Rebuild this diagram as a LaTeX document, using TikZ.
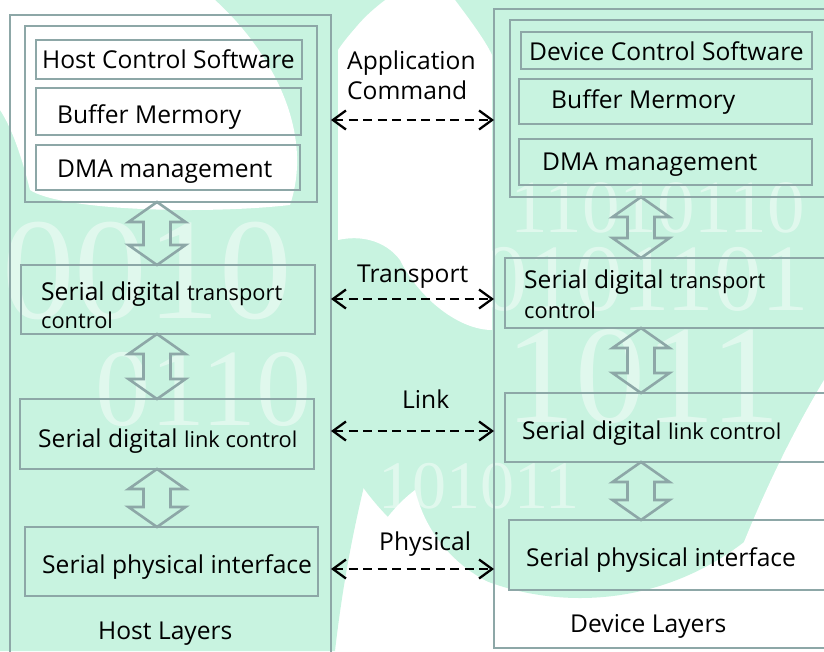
\documentclass[tikz,border=0pt]{standalone}
\usepackage{fontspec}
\setmainfont{Open Sans}
\newfontfamily\digitfont{Liberation Serif}
\usetikzlibrary{arrows.meta,calc}

\definecolor{mint}{HTML}{C8F3E0}
\definecolor{boxline}{HTML}{8DA7A7}

\tikzset{
  lay/.style={draw=boxline, line width=2.6pt, rectangle, anchor=north west,
              inner sep=0pt, outer sep=0pt},
  lbl/.style={anchor=base west, inner sep=0pt, font=\fontsize{24.6}{28}\selectfont},
  proto/.style={line width=2.3pt, dash pattern=on 9pt off 5.5pt,
                {Straight Barb[length=13pt,width=19pt]}-{Straight Barb[length=13pt,width=19pt]}},
  blockarr/.style={draw=boxline, line width=2.6pt, line join=miter},
  bits/.style={text=white, opacity=0.45, anchor=base west, inner sep=0pt}
}
\newcommand\smaller[1]{{\fontsize{21.8}{25}\selectfont #1}}
\newcommand\bitsize[1]{\digitfont\fontsize{#1}{#1}\selectfont}

% hollow double arrow between two stacked boxes, centred on a reference x
\newcommand\updown[3]{%
  \coordinate (arrtop) at (#1.south -| #3);
  \coordinate (arrbot) at (#2.north -| #3);
  \draw[blockarr] (arrtop)
    -- ([shift={(28.5pt,-20pt)}]arrtop) -- ([shift={(13.5pt,-20pt)}]arrtop)
    -- ([shift={(13.5pt,20pt)}]arrbot) -- ([shift={(28.5pt,20pt)}]arrbot)
    -- (arrbot)
    -- ([shift={(-28.5pt,20pt)}]arrbot) -- ([shift={(-13.5pt,20pt)}]arrbot)
    -- ([shift={(-13.5pt,-20pt)}]arrtop) -- ([shift={(-28.5pt,-20pt)}]arrtop)
    -- cycle;
}

\begin{document}
\begin{tikzpicture}[x=1pt,y=-1pt]
\useasboundingbox (0,0) rectangle (824,651);
\clip (0,0) rectangle (824,651);

% ---- decorative background ----
\fill[white] (0,0) rectangle (824,651);
\fill[mint] (0,0) -- (385,0) .. controls (365,15) and (345,35) .. (338,60)
  -- (338,250) .. controls (395,265) and (405,330) .. (390,380)
  .. controls (375,450) and (350,520) .. (335,651) -- (0,651) -- cycle;
\fill[mint] (580,330) circle [radius=268pt];
\fill[mint] (450,0) rectangle (824,330);
\fill[white] (0,0) -- (215,0) .. controls (270,50) and (315,130) .. (290,205)
  .. controls (200,215) and (60,210) .. (30,190)
  .. controls (20,150) and (10,125) .. (0,110) -- cycle;
\fill[white] (338,50) .. controls (355,25) and (375,8) .. (395,0) -- (455,0)
  .. controls (470,20) and (485,40) .. (492,55) -- (492,330)
  .. controls (460,330) and (420,300) .. (400,260)
  .. controls (385,240) and (360,235) .. (338,240) -- cycle;
\fill[white] (338,651) .. controls (345,580) and (375,520) .. (415,490)
  .. controls (430,550) and (480,595) .. (560,602)
  .. controls (630,608) and (690,625) .. (715,651) -- cycle;
\fill[white] (824,380) -- (824,450) .. controls (800,520) and (775,590) .. (765,651)
  -- (705,651) .. controls (730,570) and (770,470) .. (824,380) -- cycle;

\node[bits, font=\bitsize{145}] (bg1) at (2,318) {0010};
\node[bits, font=\bitsize{110}] (bg2) at (95,425) {0110};
\node[bits, font=\bitsize{68}]  (bg4) at (378,508) {101011};
\node[bits, font=\bitsize{75}]  (bg5) at (510,232) {11010110};
\node[bits, font=\bitsize{95}]  (bg6) at (480,310) {0101101};
\node[bits, font=\bitsize{140}] (bg7) at (505,422) {1011};

% ---- host side ----
\node[lay, minimum width=321pt, minimum height=660pt] (host) at (10,15) {};
\node[lay, minimum width=292pt, minimum height=176pt] (hgrp) at (25,26) {};
\node[lay, minimum width=266pt, minimum height=39pt]  (hcs)  at (36,40) {};
\node[lay, minimum width=265pt, minimum height=47pt]  (hbuf) at (36,88) {};
\node[lay, minimum width=264pt, minimum height=45pt]  (hdma) at (36,145) {};
\node[lay, minimum width=294pt, minimum height=69pt]  (htr)  at (21,265) {};
\node[lay, minimum width=294pt, minimum height=70pt]  (hlk)  at (20,399) {};
\node[lay, minimum width=293pt, minimum height=69pt]  (hph)  at (25,527) {};

\node[lbl] (thcs)  at (42,68)  {Host Control Software};
\node[lbl] (thbuf) at (57,123) {Buffer Mermory};
\node[lbl] (thdma) at (57,177) {DMA management};
\node[lbl] (thtr)  at (41,300) {Serial digital \smaller{transport}};
\node[lbl] (thtr2) at (41,328) {\smaller{control}};
\node[lbl] (thlk)  at (38,447) {Serial digital \smaller{link control}};
\node[lbl] (thph)  at (42,573) {Serial physical interface};
\node[lbl] (thost) at (98,639) {Host Layers};

% ---- device side ----
\node[lay, minimum width=350pt, minimum height=639pt] (dev)  at (494,9) {};
\node[lay, minimum width=330pt, minimum height=177pt] (dgrp) at (510,20) {};
\node[lay, minimum width=291pt, minimum height=37pt]  (dcs)  at (521,32) {};
\node[lay, minimum width=293pt, minimum height=45pt]  (dbuf) at (519,79) {};
\node[lay, minimum width=293pt, minimum height=46pt]  (ddma) at (519,139) {};
\node[lay, minimum width=330pt, minimum height=70pt]  (dtr)  at (505,258) {};
\node[lay, minimum width=330pt, minimum height=69pt]  (dlk)  at (505,393) {};
\node[lay, minimum width=330pt, minimum height=70pt]  (dph)  at (509,520) {};

\node[lbl] (tdcs)  at (529,60)  {Device Control Software};
\node[lbl] (tdbuf) at (551,108) {Buffer Mermory};
\node[lbl] (tddma) at (542,170) {DMA management};
\node[lbl] (tdtr)  at (524,288) {Serial digital \smaller{transport}};
\node[lbl] (tdtr2) at (524,318) {\smaller{control}};
\node[lbl] (tdlk)  at (522,439) {Serial digital \smaller{link control}};
\node[lbl] (tdph)  at (526,566) {Serial physical interface};
\node[lbl] (tdev)  at (570,632) {Device Layers};

% ---- layer-to-layer stacking arrows ----
\coordinate (hx) at (157,0);
\coordinate (dx) at (641,0);
\updown{hgrp}{htr}{hx}
\updown{htr}{hlk}{hx}
\updown{hlk}{hph}{hx}
\updown{dgrp}{dtr}{dx}
\updown{dtr}{dlk}{dx}
\updown{dlk}{dph}{dx}

% ---- peer protocols ----
\node[lbl] (tapp) at (347,69) {Application};
\node[lbl] (tcmd) at (347,99) {Command};
\node[lbl] (ttra) at (357,282) {Transport};
\node[lbl] (tlnk) at (402,408) {Link};
\node[lbl] (tphy) at (379,550) {Physical};

\coordinate (ya) at (0,120);
\coordinate (yt) at (0,299);
\coordinate (yl) at (0,431);
\coordinate (yp) at (0,569);
\draw[proto] (host.east |- ya) -- (dev.west |- ya);
\draw[proto] (host.east |- yt) -- (dev.west |- yt);
\draw[proto] (host.east |- yl) -- (dev.west |- yl);
\draw[proto] (host.east |- yp) -- (dev.west |- yp);
\end{tikzpicture}
\end{document}
